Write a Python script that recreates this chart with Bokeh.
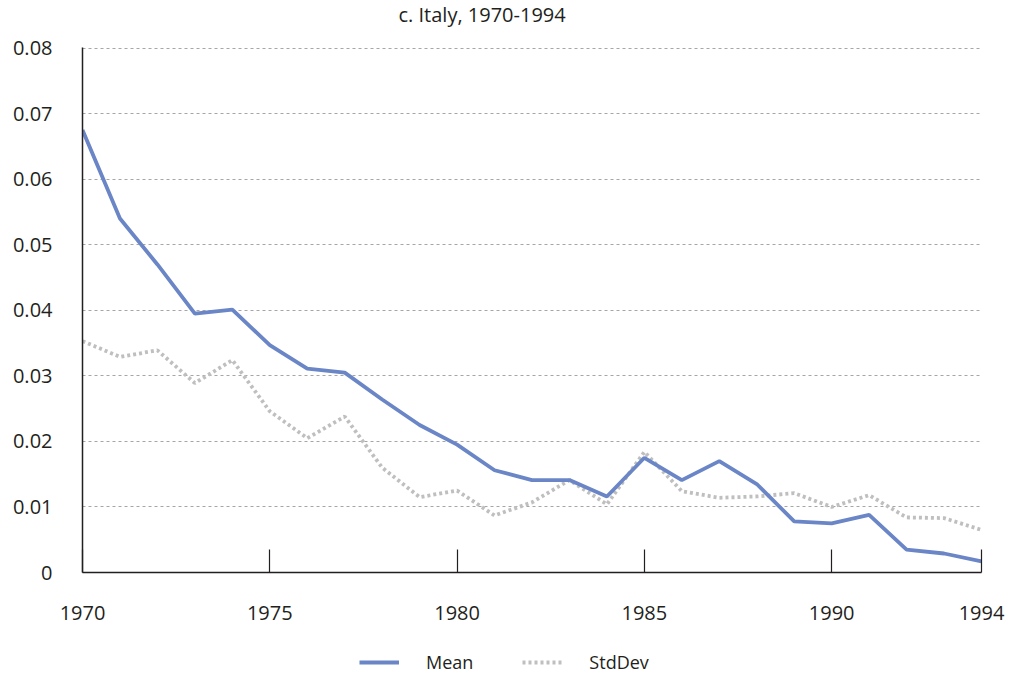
from bokeh.plotting import figure
from bokeh.layouts import column
from bokeh.models import FixedTicker, CustomJSTickFormatter, Range1d, Legend, LegendItem, Label
from bokeh.embed import file_html
from bokeh.resources import INLINE

years = list(range(1970, 1995))
mean = [0.0675, 0.0540, 0.0470, 0.0395, 0.0401, 0.0347, 0.0311, 0.0305, 0.0264, 0.0225,
        0.0195, 0.0156, 0.0141, 0.0141, 0.0116, 0.0175, 0.0141, 0.0170, 0.0135, 0.0078,
        0.0075, 0.0088, 0.0035, 0.0029, 0.0017]
stddev = [0.0353, 0.0329, 0.0339, 0.0289, 0.0324, 0.0246, 0.0205, 0.0238, 0.0160, 0.0115,
          0.0125, 0.0087, 0.0107, 0.0141, 0.0104, 0.0184, 0.0124, 0.0114, 0.0116, 0.0121,
          0.0100, 0.0118, 0.0084, 0.0083, 0.0065]
x_ticks = [1970, 1975, 1980, 1985, 1990, 1994]
y_ticks = [0, 0.01, 0.02, 0.03, 0.04, 0.05, 0.06, 0.07, 0.08]
title_text = "c. Italy, 1970-1994"

FONT = "Open Sans"
TXT = "#231f20"
BLUE = "#6a86c6"
GREY = "#bfbfbf"


def strip(height):
    f = figure(width=1005, height=height, output_backend="svg", toolbar_location=None,
               x_range=Range1d(0, 1), y_range=Range1d(0, 1),
               min_border_left=0, min_border_right=0, min_border_top=0, min_border_bottom=0)
    f.axis.visible = False
    f.grid.visible = False
    f.outline_line_color = None
    return f


# title strip
tf = strip(28)
tf.add_layout(Label(x=316, y=14, x_units="screen", y_units="screen", text=title_text,
                    text_font=FONT, text_font_size="20px", text_color=TXT,
                    text_align="left", text_baseline="middle"))

p = figure(width=1005, height=618, output_backend="svg", toolbar_location=None,
           x_range=Range1d(1970, 1994), y_range=Range1d(0, 0.0801),
           min_border_left=82, min_border_right=24,
           min_border_top=19, min_border_bottom=74)
p.outline_line_color = None

p.xgrid.grid_line_color = None
p.ygrid.ticker = FixedTicker(ticks=y_ticks[1:])
p.ygrid.grid_line_color = "#a6a6a6"
p.ygrid.grid_line_dash = "3 3"
p.ygrid.grid_line_width = 1

p.xaxis.ticker = FixedTicker(ticks=x_ticks)
p.xaxis.axis_line_color = TXT
p.xaxis.axis_line_width = 1.5
p.xaxis.major_tick_in = 23
p.xaxis.major_tick_out = 0
p.xaxis.major_tick_line_color = TXT
p.xaxis.major_tick_line_width = 1.2
p.xaxis.minor_tick_line_color = None
p.xaxis.major_label_standoff = 33
p.xaxis.major_label_text_font = FONT
p.xaxis.major_label_text_font_size = "20px"
p.xaxis.major_label_text_color = TXT

p.yaxis.ticker = FixedTicker(ticks=y_ticks)
p.yaxis.formatter = CustomJSTickFormatter(code="return tick == 0 ? '0' : tick.toFixed(2);")
p.yaxis.axis_line_color = TXT
p.yaxis.axis_line_width = 1.5
p.yaxis.major_tick_line_color = None
p.yaxis.minor_tick_line_color = None
p.yaxis.major_label_standoff = 24
p.yaxis.major_label_text_baseline = "alphabetic"
p.yaxis.major_label_text_font = FONT
p.yaxis.major_label_text_font_size = "20px"
p.yaxis.major_label_text_color = TXT

p.line(years, stddev, line_color=GREY, line_width=3.8, line_dash="3 3")
p.line(years, mean, line_color=BLUE, line_width=3.8)

# legend strip below the chart (its lines lie outside its own view)
lg = strip(28)
r_mean = lg.line(years, mean, line_color=BLUE, line_width=3.8)
r_sd = lg.line(years, stddev, line_color=GREY, line_width=3.8, line_dash="3 3")
legend = Legend(items=[LegendItem(label="Mean", renderers=[r_mean]),
                       LegendItem(label="StdDev", renderers=[r_sd])],
                orientation="horizontal", location=(277, 0),
                border_line_color=None, background_fill_alpha=0,
                label_text_font=FONT, label_text_font_size="18px",
                label_text_color=TXT, glyph_width=40, glyph_height=20,
                label_standoff=27, spacing=49, padding=0, margin=0)
lg.add_layout(legend, "center")

layout = column(tf, p, lg, spacing=0)
open("out.html", "w").write(file_html(layout, INLINE))
